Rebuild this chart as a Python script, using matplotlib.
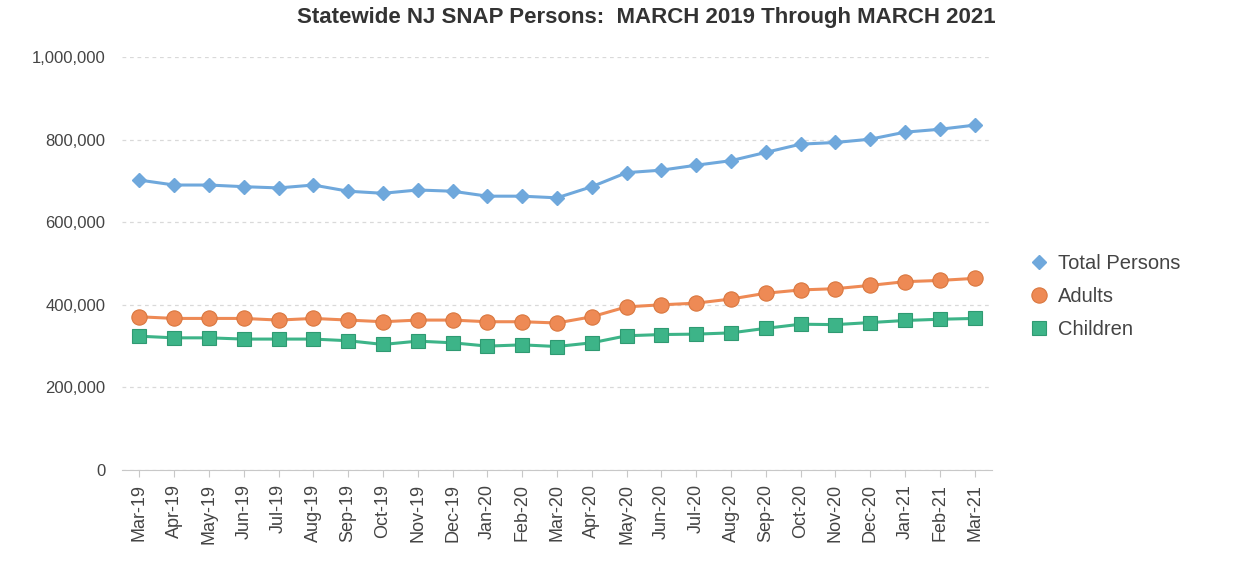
import matplotlib
matplotlib.use("Agg")
import matplotlib.pyplot as plt
from matplotlib.ticker import FuncFormatter

months = ["Mar-19", "Apr-19", "May-19", "Jun-19", "Jul-19", "Aug-19", "Sep-19",
          "Oct-19", "Nov-19", "Dec-19", "Jan-20", "Feb-20", "Mar-20", "Apr-20",
          "May-20", "Jun-20", "Jul-20", "Aug-20", "Sep-20", "Oct-20", "Nov-20",
          "Dec-20", "Jan-21", "Feb-21", "Mar-21"]

total_persons = [702000, 690000, 690000, 686000, 683000, 690000, 675000, 670000,
                 678000, 675000, 663000, 663000, 659000, 686000, 720000, 726000,
                 738000, 749000, 769000, 789000, 793000, 801000, 818000, 825000,
                 835000]

adults = [371000, 367000, 367000, 367000, 363000, 367000, 363000, 359000,
          363000, 363000, 359000, 359000, 356000, 371000, 395000, 400000,
          404000, 414000, 428000, 436000, 439000, 447000, 456000, 459000,
          464000]

children = [324000, 320000, 320000, 317000, 317000, 317000, 313000, 304000,
            312000, 308000, 300000, 303000, 299000, 308000, 325000, 328000,
            329000, 332000, 343000, 353000, 352000, 357000, 362000, 365000,
            367000]

plt.rcParams['font.family'] = ['Liberation Sans', 'DejaVu Sans']

fig = plt.figure(figsize=(12.37, 5.62), dpi=100)
ax = fig.add_axes([122 / 1237, 92 / 562, 870 / 1237, 413 / 562])

x = list(range(len(months)))
ax.plot(x, total_persons, color="#6fa8dc", lw=2.2, marker="D", ms=7,
        markerfacecolor="#6fa8dc", markeredgecolor="#6fa8dc", label="Total Persons")
ax.plot(x, adults, color="#ee8a55", lw=2.2, marker="o", ms=11,
        markerfacecolor="#ee8a55", markeredgecolor="#d9773f", markeredgewidth=0.8,
        label="Adults")
ax.plot(x, children, color="#3db488", lw=2.2, marker="s", ms=10,
        markerfacecolor="#3db488", markeredgecolor="#2f9a72", markeredgewidth=0.8,
        label="Children")

ax.set_xlim(-0.5, len(months) - 0.5)
ax.set_ylim(0, 1000000)
ax.set_yticks(range(0, 1000001, 200000))
ax.yaxis.set_major_formatter(FuncFormatter(lambda v, p: f"{int(v):,}"))
ax.set_xticks(x)
ax.set_xticklabels(months, rotation=90)

ax.grid(axis="y", color="#d9d9d9", linestyle=(0, (3, 3)), lw=0.9)
ax.set_axisbelow(True)
for side in ["top", "right", "left"]:
    ax.spines[side].set_visible(False)
ax.spines["bottom"].set_color("#c8c8c8")
ax.tick_params(axis="y", length=0, pad=12, labelsize=12, labelcolor="#444444")
ax.tick_params(axis="x", length=5, color="#c8c8c8", labelsize=13,
               labelcolor="#444444", pad=5)

fig.text(646 / 1237, 1 - 18 / 562, "Statewide NJ SNAP Persons:  MARCH 2019 Through MARCH 2021",
         ha="center", va="center", fontsize=16, fontweight="bold", color="#333333")

leg = ax.legend(loc="center left", bbox_to_anchor=(1.024, 0.42), frameon=False,
                fontsize=14.5, handlelength=0.8, handletextpad=0.55,
                labelspacing=0.68, labelcolor="#444444")
for line in leg.get_lines():
    line.set_linestyle("none")

fig.savefig("out.png", dpi=100)
